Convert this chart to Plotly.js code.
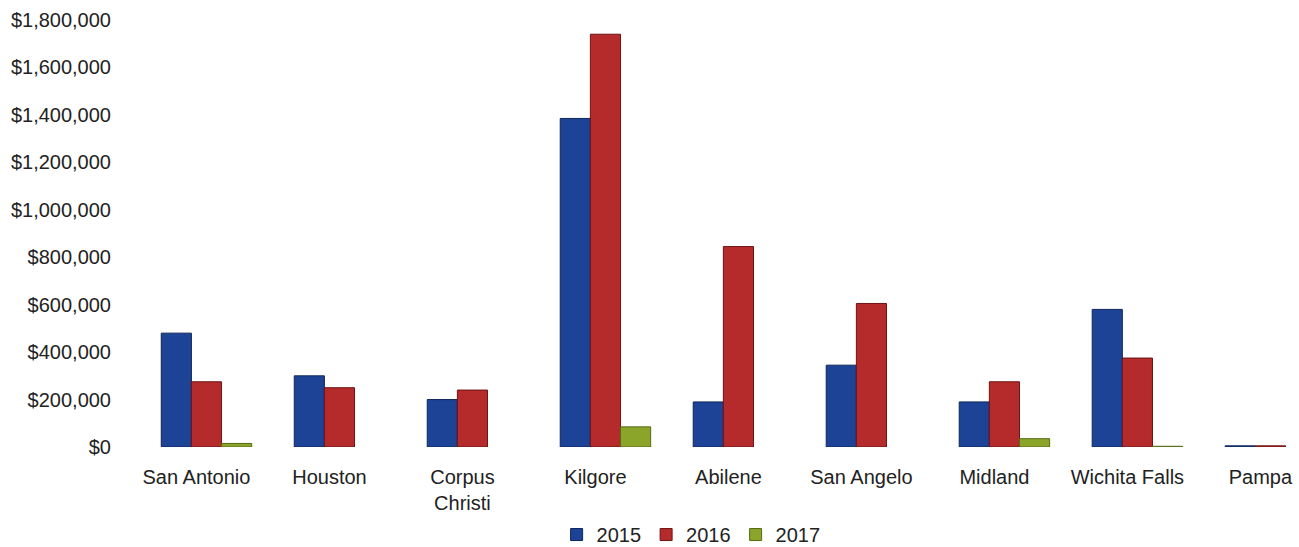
<!DOCTYPE html>
<html>
<head>
<meta charset="utf-8">
<script src="https://cdn.plot.ly/plotly-3.0.1.min.js"></script>
<style>html,body{margin:0;padding:0;background:#fff;}#chart{width:1299px;height:547px;}</style>
</head>
<body>
<div id="chart"></div>
<script>
var categories = ["San Antonio", "Houston", "Corpus<br>Christi", "Kilgore", "Abilene", "San Angelo", "Midland", "Wichita Falls", "Pampa"];
var values2015 = [480000, 300000, 200000, 1385000, 190000, 345000, 190000, 580000, 5000];
var values2016 = [275000, 250000, 240000, 1740000, 845000, 605000, 275000, 375000, 5000];
var values2017 = [15000, null, null, 85000, null, null, 35000, 3000, null];
var seriesNames = ["2015", "2016", "2017"];
var yTicks = [0, 200000, 400000, 600000, 800000, 1000000, 1200000, 1400000, 1600000, 1800000];
var yTickLabels = ["$0", "$200,000", "$400,000", "$600,000", "$800,000", "$1,000,000", "$1,200,000", "$1,400,000", "$1,600,000", "$1,800,000"];

var colors = ["#1c4396", "#b52a2a", "#8aa52a"];
var lineColors = ["#0f2658", "#6e1414", "#566a15"];
var allValues = [values2015, values2016, values2017];

var data = allValues.map(function (vals, i) {
  return {
    type: "bar",
    name: seriesNames[i],
    x: categories,
    y: vals,
    marker: { color: colors[i], line: { color: lineColors[i], width: 1 } },
    hoverinfo: "x+y+name"
  };
});

var layout = {
  width: 1299,
  height: 547,
  margin: { l: 130, r: 0, t: 20, b: 100, autoexpand: false },
  paper_bgcolor: "#ffffff",
  plot_bgcolor: "#ffffff",
  font: { family: "Liberation Sans, Arial, sans-serif", size: 20, color: "#222222" },
  barmode: "group",
  bargap: 0.32,
  bargroupgap: 0,
  showlegend: true,
  legend: {
    orientation: "h",
    x: 0.48,
    xanchor: "center",
    y: -0.205,
    yanchor: "middle",
    font: { size: 20, color: "#222222" },
    itemwidth: 30,
    tracegroupgap: 0
  },
  xaxis: {
    type: "category",
    automargin: false,
    range: [-0.575, 8.215],
    showgrid: false,
    showline: false,
    zeroline: false,
    ticks: "",
    tickfont: { size: 20, color: "#222222" },
    ticklabelstandoff: 16,
    ticklabelshift: -10
  },
  yaxis: {
    automargin: false,
    range: [0, 1800000],
    tickvals: yTicks,
    ticktext: yTickLabels,
    showgrid: false,
    zeroline: false,
    showline: false,
    ticks: "",
    ticklabelstandoff: 18,
    tickfont: { size: 20, color: "#222222" }
  }
};

Plotly.newPlot("chart", data, layout, { displayModeBar: false, responsive: false });
</script>
</body>
</html>
